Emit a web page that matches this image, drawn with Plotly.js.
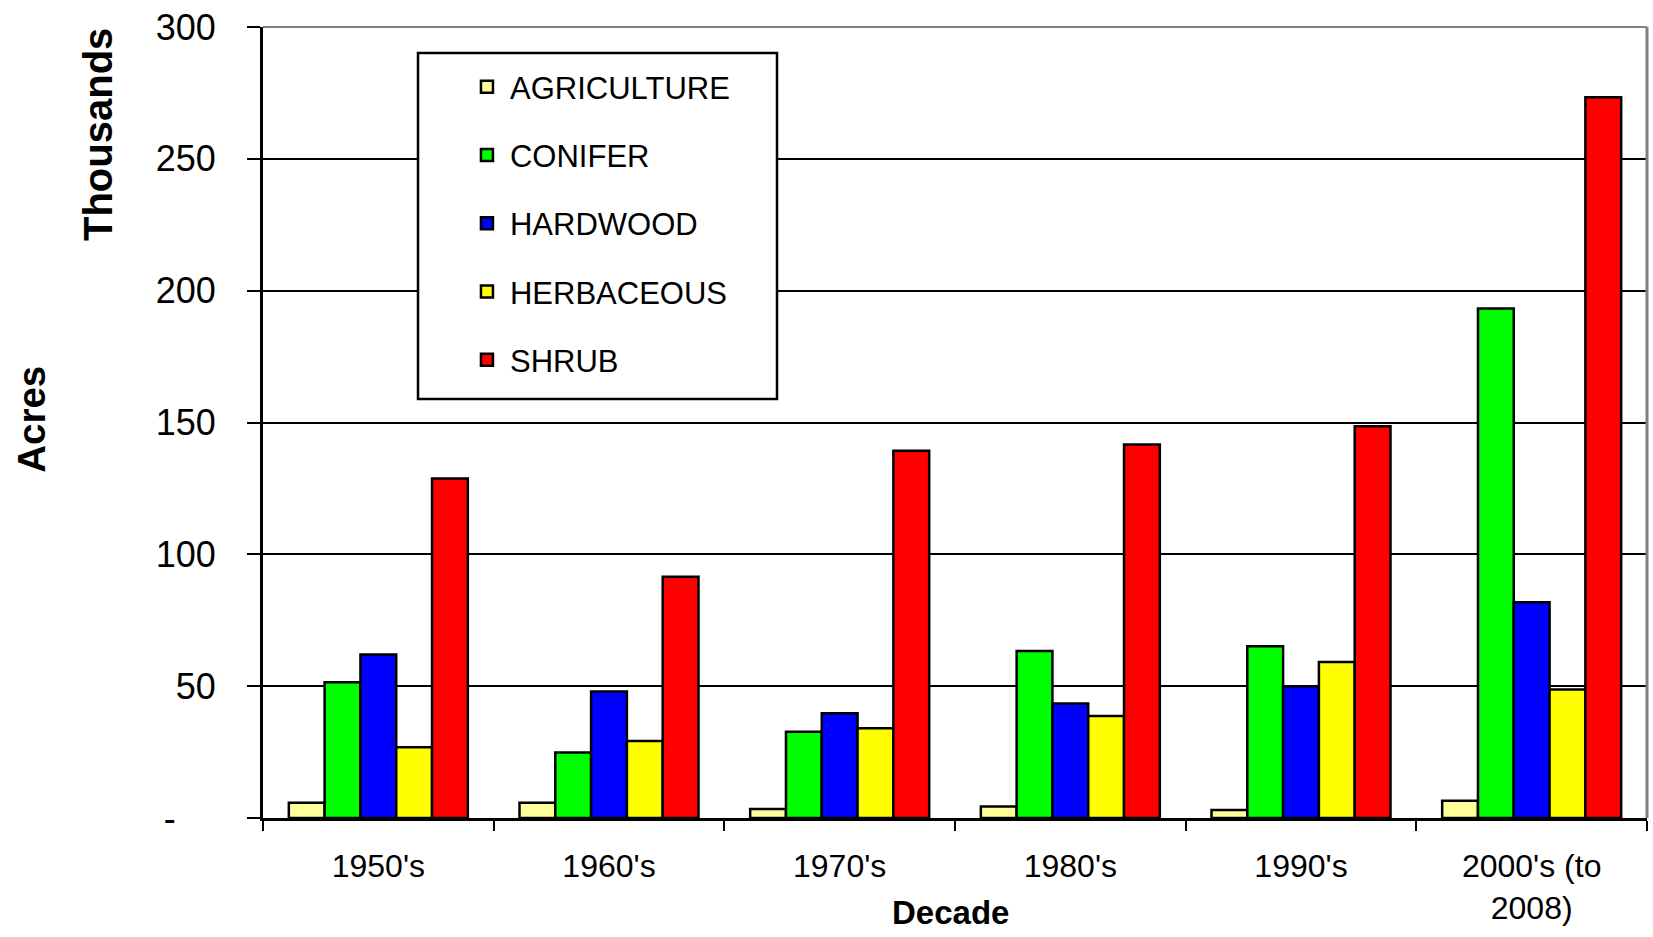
<!DOCTYPE html>
<html>
<head>
<meta charset="utf-8">
<script src="https://cdn.plot.ly/plotly-3.0.1.min.js"></script>
<style>html,body{margin:0;padding:0;background:#fff;}#chart{width:1653px;height:937px;}</style>
</head>
<body>
<div id="chart"></div>
<script>
var categories = ["1950's", "1960's", "1970's", "1980's", "1990's", "2000's (to<br>2008)"];
var agriculture = [5.8, 5.8, 3.4, 4.4, 3.0, 6.5];
var conifer = [51.5, 24.8, 32.7, 63.3, 65.1, 193.2];
var hardwood = [62.0, 48.0, 39.7, 43.4, 50.0, 81.8];
var herbaceous = [26.8, 29.2, 34.0, 38.7, 59.2, 48.7];
var shrub = [128.8, 91.5, 139.3, 141.7, 148.6, 273.4];
var yTickVals = [0, 50, 100, 150, 200, 250, 300];
var yTickText = ["-\u2007\u2007", "50", "100", "150", "200", "250", "300"];

var FONT = "Liberation Sans, Arial, sans-serif";
function bar(name, values, color) {
  return {
    type: "bar", name: name, x: categories, y: values, legendgroup: name,
    marker: {color: color, line: {color: "#000", width: 2.5}},
    hoverinfo: "x+y+name"
  };
}
var data = [
  bar("AGRICULTURE", agriculture, "#FFFF99"),
  bar("CONIFER", conifer, "#00FF00"),
  bar("HARDWOOD", hardwood, "#0000FF"),
  bar("HERBACEOUS", herbaceous, "#FFFF00"),
  bar("SHRUB", shrub, "#FF0000")
];
var layout = {
  width: 1653, height: 937,
  margin: {l: 263, r: 6, t: 27, b: 119},
  paper_bgcolor: "#fff", plot_bgcolor: "#fff",
  barmode: "group", bargap: 0.224, bargroupgap: 0,
  font: {family: FONT, color: "#000"},
  xaxis: {
    type: "category", showline: true, linecolor: "#000", linewidth: 3,
    ticks: "outside", tickson: "boundaries", ticklen: 10, tickwidth: 2, tickcolor: "#000",
    tickfont: {size: 32, family: FONT, color: "#000"}, ticklabelstandoff: 18,
    showgrid: false, zeroline: false
  },
  yaxis: {
    range: [0, 300], tickvals: yTickVals, ticktext: yTickText,
    showline: true, linecolor: "#000", linewidth: 3,
    ticks: "outside", ticklen: 13, tickwidth: 2, tickcolor: "#000",
    tickfont: {size: 36, family: FONT, color: "#000"}, ticklabelstandoff: 24,
    showgrid: true, gridcolor: "#000", gridwidth: 2, zeroline: false
  },
  legend: {
    x: 0.1452, y: 0.9583, xanchor: "left", yanchor: "top",
    bgcolor: "rgba(0,0,0,0)", borderwidth: 0, itemwidth: 36,
    font: {size: 31, family: FONT, color: "#000"},
    tracegroupgap: 25
  },
  shapes: [
    {type: "line", xref: "paper", yref: "paper", x0: 0, x1: 1, y0: 1, y1: 1, line: {color: "#808080", width: 2}, layer: "above"},
    {type: "line", xref: "paper", yref: "paper", x0: 1, x1: 1, y0: 0, y1: 1, line: {color: "#808080", width: 3}, layer: "above"},
    {type: "rect", xref: "paper", yref: "paper", x0: 0.112, x1: 0.3714, y0: 0.5297, y1: 0.9671, fillcolor: "#fff", line: {color: "#000", width: 2.5}, layer: "above"}
  ],
  annotations: [
    {text: "<b>Thousands</b>", xref: "paper", yref: "paper", x: -0.1192, y: 0.8635, xanchor: "center", yanchor: "middle", textangle: -90, showarrow: false, font: {size: 40, family: FONT, color: "#000"}},
    {text: "<b>Acres</b>", xref: "paper", yref: "paper", x: -0.1673, y: 0.504, xanchor: "center", yanchor: "middle", textangle: -90, showarrow: false, font: {size: 38.5, family: FONT, color: "#000"}},
    {text: "<b>Decade</b>", xref: "paper", yref: "paper", x: 0.4971, y: -0.1201, xanchor: "center", yanchor: "middle", showarrow: false, font: {size: 33, family: FONT, color: "#000"}}
  ]
};
Plotly.newPlot("chart", data, layout, {displayModeBar: false, staticPlot: true});
</script>
</body>
</html>
